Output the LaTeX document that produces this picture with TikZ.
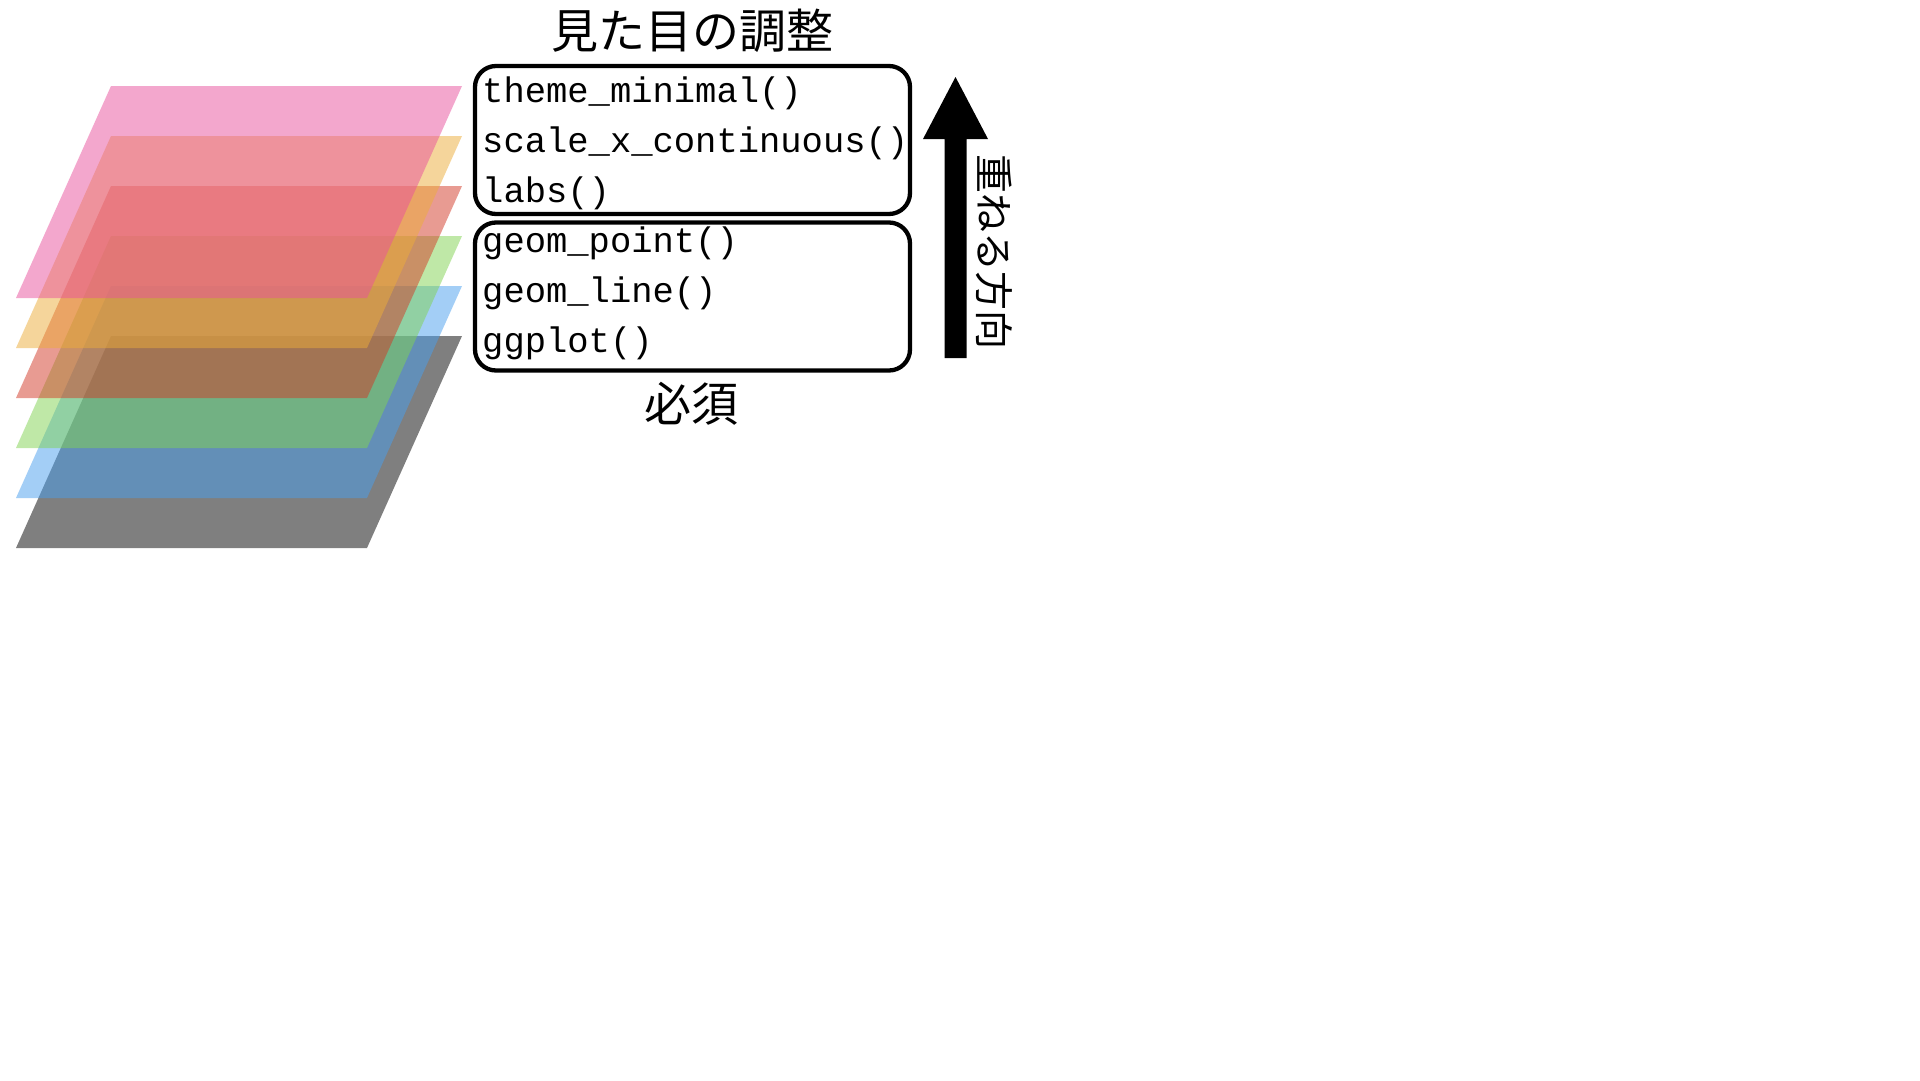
\documentclass[tikz,border=0pt]{standalone}
\usepackage{fontspec}
\newfontfamily\jpfont{Noto Sans CJK JP}
\newfontfamily\codefont{Liberation Mono}
\definecolor{layPink}{RGB}{233,81,157}
\definecolor{layOrange}{RGB}{237,173,57}
\definecolor{layRed}{RGB}{211,57,39}
\definecolor{layGreen}{RGB}{129,211,81}
\definecolor{layBlue}{RGB}{73,159,239}
\definecolor{layGray}{RGB}{0,0,0}
\tikzset{
  layer/.style={fill=#1, fill opacity=0.5, draw=none},
  codebox/.style={draw=black, line width=4.3pt, rounded corners=21pt, minimum width=435pt, minimum height=148pt, inner sep=0pt},
  codeline/.style={anchor=base west, inner sep=0pt, font=\codefont\fontsize{35.5}{35.5}\selectfont},
  jplabel/.style={inner sep=0pt, font=\jpfont\fontsize{47}{47}\selectfont},
  vlabel/.style={inner sep=0pt, rotate=-90, font=\jpfont\fontsize{39}{39}\selectfont},
}
\begin{document}
\begin{tikzpicture}[x=1pt,y=-1pt]
\fill[white] (0,0) rectangle (1920,1080);
\useasboundingbox (0,0) rectangle (1920,1080);
% layers, bottom first
\foreach \t/\c in {336/layGray, 286/layBlue, 236/layGreen, 186/layRed, 136/layOrange, 86/layPink}{
  \fill[layer=\c] (111,\t) -- (462,\t) -- (367,\t+212) -- (16,\t+212) -- cycle;
}
% boxes
\node[codebox] (adjbox) at (692.5,140) {};
\node[codebox] (reqbox) at (692.5,296.5) {};
% code lines
\node[codeline] (l1) at (482,102) {theme\_minimal()};
\node[codeline] (l2) at (482,152) {scale\_x\_continuous()};
\node[codeline] (l3) at (482,202) {labs()};
\node[codeline] (l4) at (482,252) {geom\_point()};
\node[codeline] (l5) at (482,302) {geom\_line()};
\node[codeline] (l6) at (482,352) {ggplot()};
% titles
\node[jplabel] (adjtitle) at (692,31) {見た目の調整};
\node[jplabel] (reqtitle) at (691,404) {必須};
% arrow
\fill[black] (944.5,358) -- (966.5,358) -- (966.5,139) -- (988,139) -- (955.5,77) -- (923,139) -- (944.5,139) -- cycle;
\node[vlabel] (dir) at (994,252) {重ねる方向};
\end{tikzpicture}
\end{document}
